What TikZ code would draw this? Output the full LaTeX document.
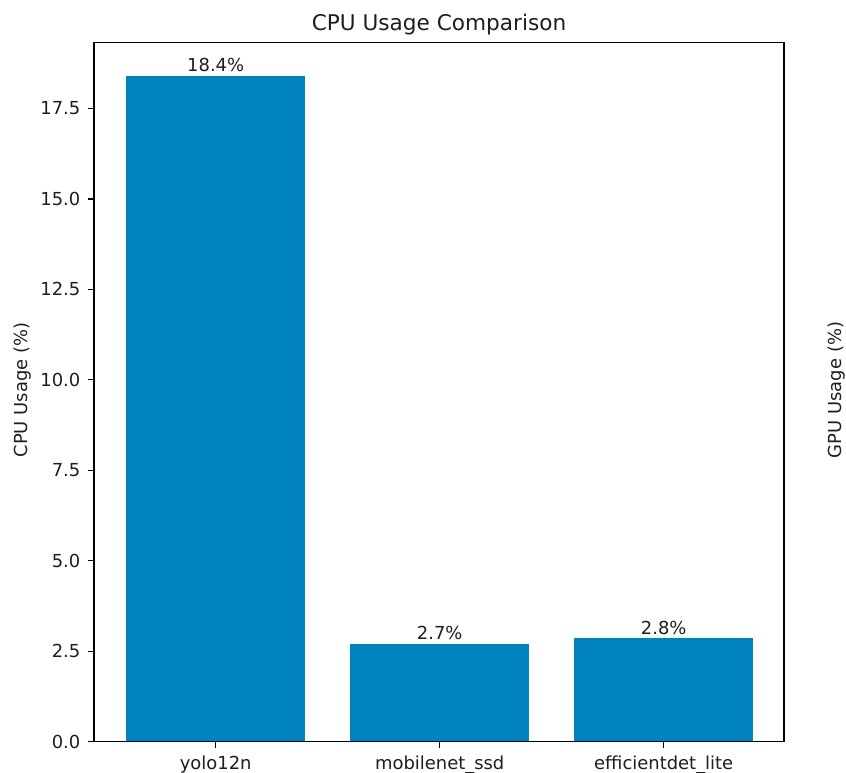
\documentclass[tikz,border=0pt]{standalone}
\usepackage{fontspec}
\setmainfont{DejaVu Sans}
\definecolor{barblue}{RGB}{0,130,190}
\definecolor{txt}{RGB}{30,30,30}
\begin{document}
\begin{tikzpicture}[x=1bp,y=-1bp,
  spine/.style={draw=black,line width=1.3bp},
  tickmark/.style={draw=black,line width=1.3bp},
  ticklbl/.style={inner sep=0pt,text=txt,font=\fontsize{18}{20}\selectfont},
  barlbl/.style={inner sep=0pt,anchor=base,text=txt,font=\fontsize{18}{20}\selectfont},
  axlbl/.style={inner sep=0pt,anchor=base,rotate=90,text=txt,font=\fontsize{18}{20}\selectfont},
  titlelbl/.style={inner sep=0pt,anchor=base,text=txt,font=\fontsize{21.7}{24}\selectfont}]
\useasboundingbox (0,0) rectangle (846,773);
% bars (value v -> y = 741.7 - 36.19 v)
\fill[barblue] (126.1,741.7) rectangle (305.3,75.8);
\fill[barblue] (350.1,741.7) rectangle (529.3,643.5);
\fill[barblue] (574.1,741.7) rectangle (753.3,638.2);
% bar labels
\node[barlbl] (l1) at (215.7,71.5) {18.4\%};
\node[barlbl] (l2) at (439.7,639.5) {2.7\%};
\node[barlbl] (l3) at (663.7,634.2) {2.8\%};
% axes frame
\draw[spine] (94,42.5) rectangle (784,741.7);
% y ticks
\foreach \v/\t [count=\i] in {0/0.0,2.5/2.5,5/5.0,7.5/7.5,10/10.0,12.5/12.5,15/15.0,17.5/17.5}{
  \coordinate (yt\i) at (94,{741.7-36.19*\v});
  \draw[tickmark] (yt\i) -- ++(-6.3,0);
  \node[ticklbl,anchor=east] (ytl\i) at ([xshift=-13.5bp]yt\i) {\t};
}
% x ticks
\foreach \c/\t [count=\i] in {215.7/yolo12n,439.7/mobilenet\_ssd,663.7/efficientdet\_lite}{
  \coordinate (xt\i) at (\c,741.7);
  \draw[tickmark] (xt\i) -- ++(0,6.3);
  \node[ticklbl,anchor=base] (xtl\i) at (\c,769.5) {\t};
}
% axis labels and title
\node[axlbl] (ylab) at (27.5,390) {CPU Usage (\%)};
\node[axlbl] (glab) at (841,390) {GPU Usage (\%)};
\node[titlelbl] (title) at (439,30.5) {CPU Usage Comparison};
\end{tikzpicture}
\end{document}
